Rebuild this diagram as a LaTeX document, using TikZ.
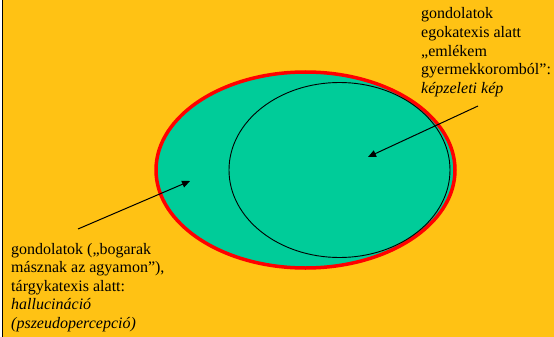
\documentclass[tikz,border=0pt]{standalone}
\usepackage{fontspec}
\setmainfont{Liberation Serif}
\newfontfamily\tnr{Liberation Serif}
\usetikzlibrary{arrows.meta,shapes.geometric}
\definecolor{bgyellow}{RGB}{255,194,20}
\definecolor{teal}{RGB}{0,204,153}
\tikzset{
  lbl/.style={inner sep=0pt, anchor=base west, align=left, font=\tnr\fontsize{16}{18.5}\selectfont},
  ptr/.style={draw=black, line width=1pt, -{Triangle[length=8pt,width=7pt]}},
}
\begin{document}
\begin{tikzpicture}[x=1pt,y=-1pt]
\useasboundingbox (0,0) rectangle (554,337);
\fill[white] (0,0) rectangle (554,337);
\fill[bgyellow] (2,0) rectangle (554,337);
\draw[black, line width=1pt] (2,0) -- (2,337);
% outer ellipse
\node (outer) [ellipse, draw=red, line width=3.5pt, fill=teal, minimum width=299pt, minimum height=196pt, inner sep=0pt] at (305.5,170) {};
% inner ellipse
\node (inner) [ellipse, draw=black, line width=0.9pt, minimum width=221pt, minimum height=175pt, inner sep=0pt] at (339.5,170) {};
\node (tr) [lbl] at (421,93) {gondolatok\\egokatexis alatt\\„emlékem\\gyermekkoromból”:\\\textit{képzeleti kép}};
\node (bl) [lbl] at (11,328) {gondolatok („bogarak\\másznak az agyamon”),\\tárgykatexis alatt:\\\textit{hallucináció}\\\textit{(pszeudopercepció)}};
\coordinate (s1) at (478,106);
\coordinate (t1) at (368,157);
\coordinate (s2) at (78,229);
\coordinate (t2) at (190,181);
\draw[ptr] (s1) -- (t1);
\draw[ptr] (s2) -- (t2);
\end{tikzpicture}
\end{document}
